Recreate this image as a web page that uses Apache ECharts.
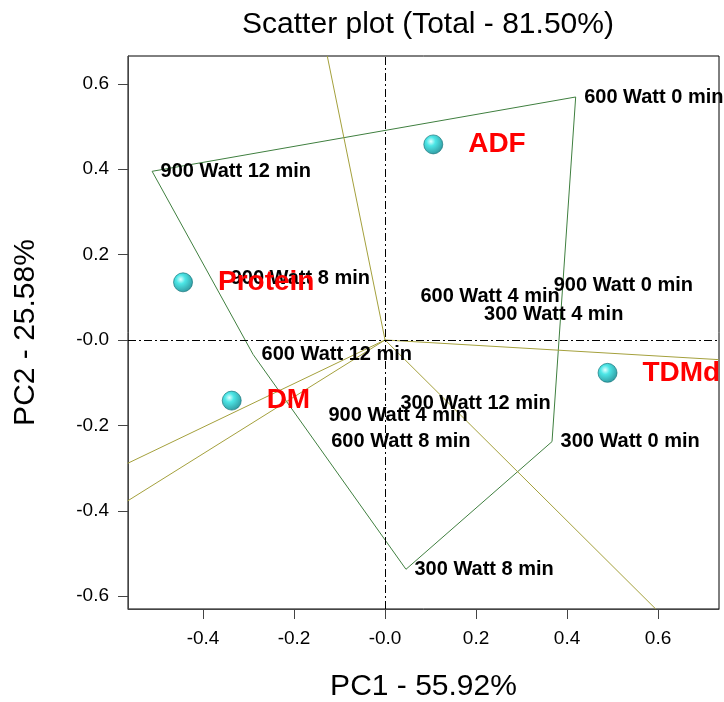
<!DOCTYPE html>
<html>
<head>
<meta charset="utf-8">
<script src="https://cdn.jsdelivr.net/npm/echarts@6/dist/echarts.min.js"></script>
<style>
  html, body { margin: 0; padding: 0; background: #fff; }
  #chart { width: 724px; height: 702px; }
</style>
</head>
<body>
<div id="chart"></div>
<script>
// genotype scores (PC1, PC2)
const genotypes = [
  '300 Watt 0 min', '300 Watt 4 min', '300 Watt 8 min', '300 Watt 12 min',
  '600 Watt 0 min', '600 Watt 4 min', '600 Watt 8 min', '600 Watt 12 min',
  '900 Watt 0 min', '900 Watt 4 min', '900 Watt 8 min', '900 Watt 12 min'
]
const genoPC1 = [0.367, 0.199, 0.046, 0.015, 0.419, 0.059, -0.137, -0.290, 0.352, -0.143, -0.358, -0.512]
const genoPC2 = [-0.238, 0.060, -0.537, -0.148, 0.569, 0.101, -0.238, -0.034, 0.128, -0.178, 0.145, 0.395]

// trait scores
const traits = ['ADF', 'Protein', 'DM', 'TDMd']
const traitPC1 = [0.106, -0.444, -0.337, 0.489]
const traitPC2 = [0.458, 0.135, -0.142, -0.077]

// polygon vertices (in drawing order)
const hullOrder = ['900 Watt 12 min', '600 Watt 0 min', '300 Watt 0 min', '300 Watt 8 min', '600 Watt 12 min']

// sector rays from origin (end points at plot border)
const rayPC1 = [-0.127, 0.733, 0.595, -0.566, -0.566]
const rayPC2 = [0.665, -0.046, -0.630, -0.289, -0.377]

const xTicks = [-0.4, -0.2, 0, 0.2, 0.4, 0.6]
const yTicks = [-0.6, -0.4, -0.2, 0, 0.2, 0.4, 0.6]

const fmt = (v) => (Math.abs(v) < 1e-9 ? '-0.0' : Number(v).toFixed(1))
const FONT = '"Liberation Sans", Arial, sans-serif'

const chart = echarts.init(document.getElementById('chart'))

const hullData = hullOrder.concat(hullOrder[0]).map((g) => {
  const i = genotypes.indexOf(g)
  return [genoPC1[i], genoPC2[i]]
})

const raySeries = rayPC1.map((x, i) => ({
  type: 'line',
  data: [[0, 0], [x, rayPC2[i]]],
  symbol: 'none',
  silent: true,
  lineStyle: { color: '#a4a03c', width: 1 },
  z: 2
}))

const sphere = new echarts.graphic.RadialGradient(0.38, 0.35, 0.65, [
  { offset: 0, color: '#d8ffff' },
  { offset: 0.35, color: '#20e0e0' },
  { offset: 1, color: '#00868e' }
])

const option = {
  animation: false,
  title: {
    text: 'Scatter plot (Total - 81.50%)',
    left: 423,
    top: 5,
    textAlign: 'center',
    textStyle: { fontFamily: FONT, fontSize: 30, fontWeight: 'normal', color: '#000' }
  },
  grid: {
    left: 128, right: 5, top: 56, bottom: 93,
    outerBoundsMode: 'none',
    show: true, borderColor: '#000', borderWidth: 1
  },
  xAxis: {
    type: 'value',
    min: -0.565, max: 0.734,
    name: 'PC1 - 55.92%',
    nameLocation: 'middle',
    nameGap: 63,
    nameTextStyle: { fontFamily: FONT, fontSize: 30, color: '#000' },
    axisLine: { onZero: false, lineStyle: { color: '#444', width: 1 } },
    axisTick: { show: true, inside: false, length: 10, customValues: xTicks, lineStyle: { color: '#444' } },
    axisLabel: { customValues: xTicks, formatter: fmt, margin: 20, fontFamily: FONT, fontSize: 19, color: '#000' },
    splitLine: { show: false }
  },
  yAxis: {
    type: 'value',
    min: -0.630, max: 0.665,
    name: 'PC2 - 25.58%',
    nameLocation: 'middle',
    nameGap: 87,
    nameTextStyle: { fontFamily: FONT, fontSize: 30, color: '#000' },
    axisLine: { onZero: false, lineStyle: { color: '#444', width: 1 } },
    axisTick: { show: true, inside: false, length: 10, customValues: yTicks, lineStyle: { color: '#444' } },
    axisLabel: { customValues: yTicks, formatter: fmt, margin: 19, fontFamily: FONT, fontSize: 19, color: '#000' },
    splitLine: { show: false }
  },
  series: [
    {
      type: 'line',
      data: hullData,
      symbol: 'none',
      silent: true,
      lineStyle: { color: '#3f7f3f', width: 1 },
      z: 2,
      markLine: {
        silent: true,
        symbol: 'none',
        label: { show: false },
        lineStyle: { color: '#000', width: 1, type: [8, 3, 2, 3] },
        data: [{ xAxis: 0 }, { yAxis: 0 }]
      }
    },
    ...raySeries,
    {
      type: 'scatter',
      silent: true,
      data: genotypes.map((g, i) => ({ name: g, value: [genoPC1[i], genoPC2[i]] })),
      symbolSize: 1,
      itemStyle: { color: 'rgba(0,0,0,0)' },
      label: {
        show: true,
        position: 'right',
        distance: 8,
        formatter: '{b}',
        fontFamily: FONT,
        fontSize: 20,
        fontWeight: 'bold',
        color: '#000',
        opacity: 1,
        textBorderWidth: 0
      },
      z: 4
    },
    {
      type: 'scatter',
      silent: true,
      data: traits.map((t, i) => ({ name: t, value: [traitPC1[i], traitPC2[i]] })),
      symbolSize: 19,
      itemStyle: { color: sphere, borderColor: '#0a6e74', borderWidth: 0.8 },
      label: {
        show: true,
        position: 'right',
        distance: 25,
        formatter: '{b}',
        fontFamily: FONT,
        fontSize: 28,
        fontWeight: 'bold',
        color: '#ff0000',
        opacity: 1,
        textBorderWidth: 0
      },
      z: 5
    }
  ]
}

chart.setOption(option)
window.addEventListener('resize', () => chart.resize())
</script>
</body>
</html>
